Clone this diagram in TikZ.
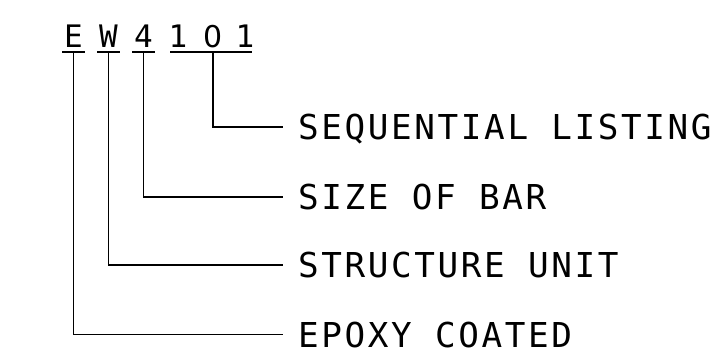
\documentclass[tikz,border=0pt]{standalone}
\usepackage{fontspec}
\newfontfamily\markfont{DejaVu Sans Mono}
\newfontfamily\zerofont{DejaVu Sans}
\newfontfamily\cadfont[LetterSpace=7.6]{DejaVu Sans Mono}
\usetikzlibrary{positioning}
\tikzset{
  markchar/.style={font=\markfont\fontsize{31}{31}\selectfont,anchor=base,inner xsep=0pt,inner ysep=5pt,text height=22pt,text depth=0pt},
  marklabel/.style={font=\cadfont\fontsize{34.3}{34.3}\selectfont,anchor=west,inner sep=0pt,text height=25pt,text depth=0pt},
  markline/.style={line width=1.8pt,black}
}

\begin{document}
\begin{tikzpicture}[x=1pt,y=-1pt]
\useasboundingbox (0,0) rectangle (717,351);
\node[markchar] (e) at (73.5,47) {E};
\node[markchar] (w) at (108.5,47) {W};
\node[markchar] (size) at (143.5,47) {4};
\node[markchar] (onea) at (178,47) {1};
\node[markchar,font=\zerofont\fontsize{30}{30}\selectfont] (zero) at (213,47) {0};
\node[markchar] (oneb) at (245,47) {1};
\node[marklabel] (seqlbl) at (298,127) {SEQUENTIAL LISTING};
\node[marklabel] (sizelbl) at (298,197) {SIZE OF BAR};
\node[marklabel] (unitlbl) at (298,265) {STRUCTURE UNIT};
\node[marklabel] (epoxylbl) at (298,334.5) {EPOXY COATED};
% underlines
\draw[markline] ([xshift=-11.5pt]e.south) -- ([xshift=11.5pt]e.south);
\draw[markline] ([xshift=-11.5pt]w.south) -- ([xshift=11.5pt]w.south);
\draw[markline] ([xshift=-11.5pt]size.south) -- ([xshift=11.5pt]size.south);
\draw[markline] ([xshift=-8pt]onea.south) -- ([xshift=7pt]oneb.south);
% leaders
\draw[markline] (zero.south) |- ([xshift=-15pt]seqlbl.west);
\draw[markline] (size.south) |- ([xshift=-15pt]sizelbl.west);
\draw[markline] (w.south) |- ([xshift=-15pt]unitlbl.west);
\draw[markline] (e.south) |- ([xshift=-15pt]epoxylbl.west);
\end{tikzpicture}
\end{document}
